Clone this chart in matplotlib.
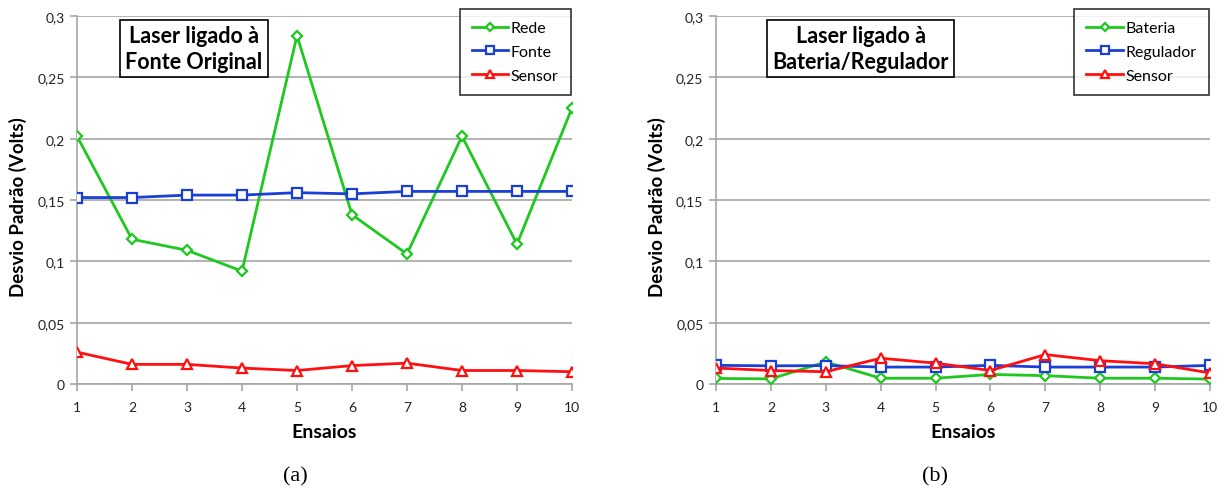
import matplotlib
matplotlib.use("Agg")
import matplotlib.pyplot as plt

ensaios = [1, 2, 3, 4, 5, 6, 7, 8, 9, 10]

# (a) Laser ligado à Fonte Original
rede = [0.202, 0.118, 0.109, 0.092, 0.284, 0.138, 0.106, 0.202, 0.114, 0.225]
fonte = [0.152, 0.152, 0.154, 0.154, 0.156, 0.155, 0.157, 0.157, 0.157, 0.157]
sensor_a = [0.026, 0.016, 0.016, 0.013, 0.011, 0.015, 0.017, 0.011, 0.011, 0.010]

# (b) Laser ligado à Bateria/Regulador
bateria = [0.0045, 0.0042, 0.018, 0.0047, 0.0047, 0.0078, 0.0068, 0.0047, 0.0047, 0.004]
regulador = [0.0152, 0.0148, 0.015, 0.0138, 0.0138, 0.0152, 0.0138, 0.0138, 0.0138, 0.0152]
sensor_b = [0.013, 0.011, 0.010, 0.021, 0.017, 0.011, 0.024, 0.019, 0.0165, 0.009]

yticks = [0, 0.05, 0.1, 0.15, 0.2, 0.25, 0.3]
ytick_labels = ["0", "0,05", "0,1", "0,15", "0,2", "0,25", "0,3"]

GREEN = "#1ec81e"
BLUE = "#1a3fd6"
RED = "#ff1010"
GRID = "#a6a6a6"

plt.rcParams["font.family"] = ["Lato", "DejaVu Sans"]

fig = plt.figure(figsize=(12.25, 4.89), dpi=100)
W, H = 1225, 489
AX_TOP, AX_BOT = 17, 385

def make_axes(x0, x1):
    return fig.add_axes([x0 / W, (H - AX_BOT) / H, (x1 - x0) / W, (AX_BOT - AX_TOP) / H])

def style(ax, series, names, title, box_x):
    markers = ["D", "s", "^"]
    colors = [GREEN, BLUE, RED]
    sizes = [5, 6.5, 7]
    for vals, name, m, c, s in zip(series, names, markers, colors, sizes):
        ax.plot(ensaios, vals, color=c, lw=2, marker=m, ms=s, mfc="white",
                mec=c, mew=1.6, label=name, zorder=3)
    ax.set_xlim(1, 10)
    ax.set_ylim(0, 0.3)
    ax.set_xticks(ensaios)
    ax.set_yticks(yticks)
    ax.set_yticklabels(ytick_labels)
    ax.yaxis.grid(True, color=GRID, lw=1.2)
    ax.set_axisbelow(True)
    for sp in ["top", "right"]:
        ax.spines[sp].set_visible(False)
    for sp in ["left", "bottom"]:
        ax.spines[sp].set_color(GRID)
        ax.spines[sp].set_linewidth(1.2)
    ax.tick_params(axis="both", colors=GRID, labelcolor="#222222", labelsize=10,
                   length=5, width=1.2, direction="out")
    ax.tick_params(axis="y", pad=4)
    ax.tick_params(axis="x", pad=7)
    ax.set_ylabel("Desvio Padrão (Volts)", fontsize=13.5, fontweight="bold")
    ax.yaxis.label.set_va("center")
    ax.yaxis.set_label_coords(-0.119, 0.484)
    ax.set_xlabel("Ensaios", fontsize=14, fontweight="bold")
    ax.xaxis.label.set_va("center")
    ax.xaxis.set_label_coords(0.5, -0.130)
    ax.text(box_x, 0.2735, title, transform=ax.transData, ha="center", va="center",
            fontsize=15.5, fontweight="bold", linespacing=1.3,
            bbox=dict(boxstyle="square,pad=0.25", fc="white", ec="black", lw=1.2),
            zorder=5)
    leg = ax.legend(loc="upper right", bbox_to_anchor=(0.997, 1.019), fontsize=11.5,
                    frameon=True, fancybox=False, edgecolor="black",
                    handlelength=2.3, handletextpad=0.15, labelspacing=0.6,
                    borderpad=0.75, borderaxespad=0, markerscale=0.8)
    leg.get_frame().set_linewidth(1.2)
    leg.set_zorder(6)

ax1 = make_axes(77, 572)
style(ax1, [rede, fonte, sensor_a], ["Rede", "Fonte", "Sensor"],
      "Laser ligado à\nFonte Original", 3.12)

ax2 = make_axes(716, 1210)
style(ax2, [bateria, regulador, sensor_b], ["Bateria", "Regulador", "Sensor"],
      "Laser ligado à\nBateria/Regulador", 3.64)

fig.text(295 / W, 1 - 477 / H, "(a)", ha="center", va="center",
         fontsize=16, family=["Liberation Serif"])
fig.text(935 / W, 1 - 477 / H, "(b)", ha="center", va="center",
         fontsize=16, family=["Liberation Serif"])

fig.savefig("out.png", dpi=100, facecolor="white")
